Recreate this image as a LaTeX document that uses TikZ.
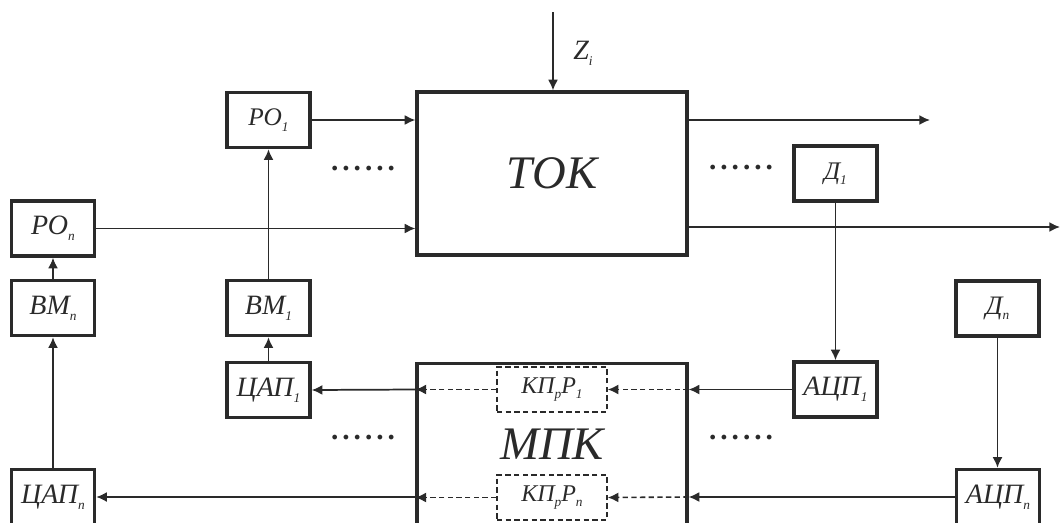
\documentclass[tikz,border=0pt]{standalone}
\usepackage{fontspec}
\setmainfont{Liberation Serif}
\usetikzlibrary{arrows.meta}
\definecolor{dk}{HTML}{2A2A2A}
\newcommand\sbs[1]{\raisebox{-0.45ex}{\fontsize{10}{12}\selectfont #1}}
\newcommand\dotrow{.\kern3pt.\kern3pt.\kern3pt.\kern3pt.\kern3pt.}
\begin{document}
\begin{tikzpicture}[x=0.75pt,y=-0.75pt,
  box/.style={draw=dk,line width=2.6pt,minimum width=62.25pt,minimum height=41.25pt,inner sep=0pt,text=dk,font=\fontsize{21}{24}\selectfont\itshape},
  bigbox/.style={draw=dk,line width=2.4pt,minimum width=202.5pt,inner sep=0pt},
  bigtext/.style={text=dk,font=\fontsize{35}{40}\selectfont\itshape,inner sep=0pt},
  dbox/.style={draw=dk,line width=1.1pt,dash pattern=on 4pt off 2.5pt,minimum width=82.5pt,minimum height=33.75pt,inner sep=0pt,text=dk,font=\fontsize{18}{22}\selectfont\itshape},
  arr/.style={draw=dk,line width=1.3pt,-{Latex[length=8pt,width=7.5pt]}},
  darr/.style={draw=dk,line width=1.2pt,dash pattern=on 4pt off 2.5pt,-{Latex[length=8pt,width=7.5pt]}},
  dotstyle/.style={text=dk,font=\fontsize{22}{26}\selectfont\bfseries,inner sep=0pt},
  lbl/.style={text=dk,font=\fontsize{21}{24}\selectfont\itshape,inner sep=0pt}]
\useasboundingbox (0,0) rectangle (1061,522);
\clip (0,0) rectangle (1061,522);
% main blocks
\node[bigbox,minimum height=122.25pt] (tok) at (552,173.5) {};
\node[bigtext] (toklbl) at (552,173.5) {ТОК};
\node[bigbox,minimum height=150pt,anchor=north] (mpk) at (552,362) {};
\node[bigtext] (mpklbl) at (552,444) {МПК};
% left boxes
\node[box,font=\fontsize{19}{22}\selectfont\itshape] (po1) at (268.5,120) {РО\sbs{1}};
\node[box] (pon) at (53,228.5) {РО\sbs{n}};
\node[box] (bmn) at (53,308) {ВМ\sbs{n}};
\node[box] (bm1) at (268.5,308) {ВМ\sbs{1}};
\node[box] (cap1) at (268.5,390) {ЦАП\sbs{1}};
\node[box] (capn) at (53,497) {ЦАП\sbs{n}};
% right boxes
\node[box,font=\fontsize{19}{22}\selectfont\itshape] (d1) at (835.5,173.5) {Д\sbs{1}};
\node[box,font=\fontsize{20}{22}\selectfont\itshape] (dn) at (997.5,308.5) {Д\sbs{n}};
\node[box] (acp1) at (835.5,389.5) {АЦП\sbs{1}};
\node[box] (acpn) at (998,497) {АЦП\sbs{n}};
% dashed inner boxes
\node[dbox] (kp1) at (552,389.5) {КП\sbs{р}Р\sbs{1}};
\node[dbox] (kpn) at (552,497.5) {КП\sbs{р}Р\sbs{n}};
% dots
\node[dotstyle] (dt1) at (363,169) {\dotrow};
\node[dotstyle] (dt2) at (741,168) {\dotrow};
\node[dotstyle] (dt3) at (363,438) {\dotrow};
\node[dotstyle] (dt4) at (741,438) {\dotrow};
% input Z
\coordinate (zi) at (553,12);
\node[lbl] (zilbl) at (583,53) {Z\sbs{i}};
\draw[arr] (zi) -- (zi |- tok.north);
% outputs
\coordinate (out1) at (930,120);
\coordinate (out2) at (1060,227);
\draw[arr] (out1 -| tok.east) -- (out1);
\draw[arr] (out2 -| tok.east) -- (out2);
% actuators to TOK
\draw[arr] (po1.east) -- (po1.east -| tok.west);
\draw[arr] (pon.east) -- (pon.east -| tok.west);
\draw[arr] (bm1.north) -- (po1.south);
\draw[arr] (bmn.north) -- (pon.south);
\draw[arr] (cap1.north) -- (bm1.south);
\draw[arr] (capn.north) -- (bmn.south);
% sensors
\draw[arr] (d1.south) -- (acp1.north);
\draw[arr] (dn.south) -- (dn.south |- acpn.north);
% into MPK
\draw[arr] (acp1.west) -- (acp1.west -| mpk.east);
\draw[arr] (acpn.west) -- (acpn.west -| mpk.east);
\draw[darr] (acp1.west -| mpk.east) -- (kp1.east);
\draw[darr] (acpn.west -| mpk.east) -- (kpn.east);
\draw[darr] (kp1.west) -- (kp1.west -| mpk.west);
\draw[darr] (kpn.west) -- (kpn.west -| mpk.west);
% out of MPK
\draw[arr] (kp1.west -| mpk.west) -- (cap1.east);
\draw[arr] (capn.east -| mpk.west) -- (capn.east);
\end{tikzpicture}
\end{document}
